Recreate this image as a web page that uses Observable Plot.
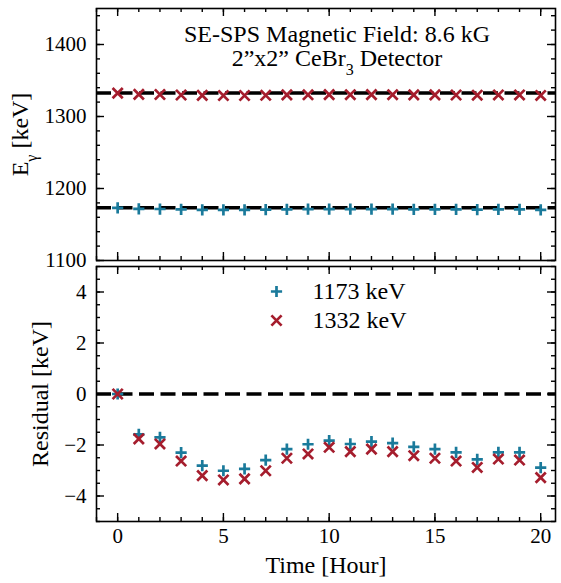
<!DOCTYPE html>
<html><head><meta charset="utf-8">
<script src="https://cdn.jsdelivr.net/npm/d3@7"></script>
<script src="https://cdn.jsdelivr.net/npm/@observablehq/plot@0.6"></script>
<style>
body{margin:0;background:#fff;}
#chart{width:561px;height:583px;background:#fff;}
#chart svg{display:block;}
</style></head><body><div id="chart"></div>
<script>
const hours = [0,1,2,3,4,5,6,7,8,9,10,11,12,13,14,15,16,17,18,19,20];
const energy1173 = [1173.20,1171.62,1171.50,1170.90,1170.39,1170.19,1170.26,1170.61,1171.04,1171.23,1171.37,1171.24,1171.33,1171.27,1171.13,1171.04,1170.91,1170.64,1170.91,1170.91,1170.31];
const energy1332 = [1332.50,1330.74,1330.54,1329.87,1329.30,1329.13,1329.17,1329.49,1329.98,1330.15,1330.41,1330.24,1330.34,1330.24,1330.08,1329.98,1329.87,1329.62,1329.95,1329.91,1329.22];
const residual1173 = [0,-1.58,-1.70,-2.30,-2.81,-3.01,-2.94,-2.59,-2.16,-1.97,-1.83,-1.96,-1.87,-1.93,-2.07,-2.16,-2.29,-2.56,-2.29,-2.29,-2.89];
const residual1332 = [0,-1.76,-1.96,-2.63,-3.20,-3.37,-3.33,-3.01,-2.52,-2.35,-2.09,-2.26,-2.16,-2.26,-2.42,-2.52,-2.63,-2.88,-2.55,-2.59,-3.28];
const referenceEnergies = [1173.2, 1332.5];
const seriesNames = ["1173 keV", "1332 keV"];
const seriesColors = ["#1a7a9b", "#a51d2d"];
const seriesSymbols = ["plus", "times"];
const xTicks = [0,5,10,15,20];
const upperYTicks = [1100,1200,1300,1400];
const lowerYTicks = [-4,-2,0,2,4];
const titleLines = ["SE-SPS Magnetic Field: 8.6 kG", "2\u201dx2\u201d CeBr\u2083 Detector"];
const xLabel = "Time [Hour]";
const upperYLabel = "E\u03b3 [keV]";
const lowerYLabel = "Residual [keV]";

const FONT = "Liberation Serif";
const FS = 24, TFS = 21;
const W = 561, ML = 96, MR = 6, FW = W - ML - MR;
const xDomain = [-1, 20.7];
const xMinor = d3.range(-1, 21, 1);
const upperMinor = d3.range(1100, 1451, 20);
const lowerMinor = d3.range(-5, 5.01, 0.5);

function insideTicks(xMaj, xMin, yMaj, yMin, fh) {
  const s = {stroke: "black", strokeWidth: 1.4};
  const MAJ = 8, MIN = 4;
  return [
    Plot.tickX(xMaj, {x: d => d, insetTop: fh - MAJ, ...s}),
    Plot.tickX(xMaj, {x: d => d, insetBottom: fh - MAJ, ...s}),
    Plot.tickX(xMin, {x: d => d, insetTop: fh - MIN, ...s}),
    Plot.tickX(xMin, {x: d => d, insetBottom: fh - MIN, ...s}),
    Plot.tickY(yMaj, {y: d => d, insetRight: FW - MAJ, ...s}),
    Plot.tickY(yMaj, {y: d => d, insetLeft: FW - MAJ, ...s}),
    Plot.tickY(yMin, {y: d => d, insetRight: FW - MIN, ...s}),
    Plot.tickY(yMin, {y: d => d, insetLeft: FW - MIN, ...s}),
    Plot.frame({stroke: "black", strokeWidth: 1.6})
  ];
}

const upperRows = hours.map((h, i) => ({h, e1: energy1173[i], e2: energy1332[i]}));
const lowerRows = hours.map((h, i) => ({h, r1: residual1173[i], r2: residual1332[i]}));
const dashStyle = {stroke: "black", strokeWidth: 3.5, strokeDasharray: "15 6.5"};
const dotStyle = (k) => ({symbol: seriesSymbols[k], stroke: seriesColors[k], strokeWidth: 2.7, r: k === 0 ? 3.7 : 4.7});
const fmt = d => d < 0 ? "\u2212" + Math.abs(d) : String(d);

const upperH = 262, upperMT = 8, upperMB = 2;
const upper = Plot.plot({
  width: W, height: upperH,
  marginLeft: ML, marginRight: MR, marginTop: upperMT, marginBottom: upperMB,
  style: {fontFamily: FONT, fontSize: FS + "px", color: "black", background: "transparent", overflow: "visible"},
  x: {domain: xDomain},
  y: {domain: [1100, 1450]},
  marks: [
    Plot.ruleY(referenceEnergies, {y: d => d, ...dashStyle}),
    Plot.dot(upperRows, {x: "h", y: "e1", ...dotStyle(0)}),
    Plot.dot(upperRows, {x: "h", y: "e2", ...dotStyle(1)}),
    ...insideTicks(xTicks, xMinor, upperYTicks, upperMinor, upperH - upperMT - upperMB),
    Plot.axisY(upperYTicks, {tickSize: 0, tickPadding: 10, label: null, fontSize: TFS, tickFormat: fmt}),
    Plot.axisX({ticks: [], label: null}),
    Plot.text([titleLines[0]], {text: d => d, frameAnchor: "top", dx: 11, dy: 26, lineAnchor: "middle", fontSize: FS, letterSpacing: "0.5px"}),
    Plot.text([titleLines[1]], {text: d => d, frameAnchor: "top", dx: 11, dy: 50, lineAnchor: "middle", fontSize: FS, letterSpacing: "0.5px"}),
    Plot.text([upperYLabel], {text: d => d, frameAnchor: "left", textAnchor: "middle", rotate: -90, dx: -76, fontSize: FS})
  ]
});

const lowerH = 583 - upperH, lowerMT = 4, lowerMB = 62;
const legendRows = seriesNames.map((name, k) => ({name, k}));
const lower = Plot.plot({
  width: W, height: lowerH,
  marginLeft: ML, marginRight: MR, marginTop: lowerMT, marginBottom: lowerMB,
  style: {fontFamily: FONT, fontSize: FS + "px", color: "black", background: "transparent", overflow: "visible"},
  x: {domain: xDomain},
  y: {domain: [-5, 5]},
  marks: [
    Plot.ruleY([0], {y: d => d, ...dashStyle}),
    Plot.dot(lowerRows, {x: "h", y: "r1", ...dotStyle(0)}),
    Plot.dot(lowerRows, {x: "h", y: "r2", ...dotStyle(1)}),
    ...insideTicks(xTicks, xMinor, lowerYTicks, lowerMinor, lowerH - lowerMT - lowerMB),
    Plot.axisY(lowerYTicks, {tickSize: 0, tickPadding: 10, label: null, fontSize: TFS, tickFormat: fmt}),
    Plot.axisX(xTicks, {tickSize: 0, tickPadding: 7, label: null, fontSize: TFS}),
    Plot.text([xLabel], {text: d => d, frameAnchor: "bottom", dy: 51, fontSize: FS}),
    Plot.text([lowerYLabel], {text: d => d, frameAnchor: "left", textAnchor: "middle", rotate: -90, dx: -56, fontSize: FS}),
    ...legendRows.map(({name, k}) => Plot.dot([name], {frameAnchor: "top-left", dx: 180, dy: 25 + 29 * k, ...dotStyle(k)})),
    ...legendRows.map(({name, k}) => Plot.text([name], {text: d => d, frameAnchor: "top-left", dx: 216, dy: 25 + 29 * k, textAnchor: "start", lineAnchor: "middle", fontSize: FS, letterSpacing: "0.3px"}))
  ]
});

const chart = document.getElementById("chart");
chart.appendChild(upper);
chart.appendChild(lower);
upper.querySelectorAll("text").forEach(t => {
  if (t.textContent === upperYLabel) {
    t.innerHTML = 'E<tspan baseline-shift="sub" font-size="16">\u03b3</tspan> [keV]';
  }
  if (t.textContent === titleLines[1]) {
    t.innerHTML = '2\u201dx2\u201d CeBr<tspan baseline-shift="sub" font-size="16">3</tspan> Detector';
  }
});
</script></body></html>
